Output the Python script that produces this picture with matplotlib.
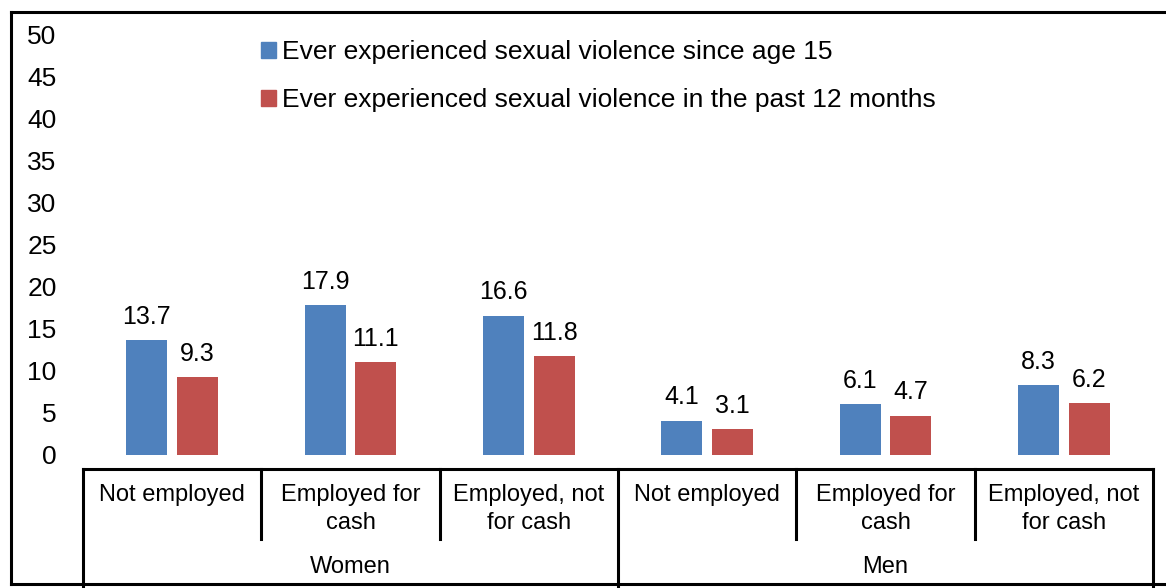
#!/usr/bin/env python3
# sexual_violence_by_employment.py

import matplotlib.pyplot as plt
import numpy as np
from matplotlib.lines import Line2D
from matplotlib.patches import Patch
from matplotlib import transforms

plt.rcParams["font.family"] = ["Liberation Sans", "DejaVu Sans"]

groups = ["Women", "Men"]
categories = ["Not employed", "Employed for\ncash", "Employed, not\nfor cash"]
series_names = [
    "Ever experienced sexual violence since age 15",
    "Ever experienced sexual violence in the past 12 months",
]
since_15 = [13.7, 17.9, 16.6, 4.1, 6.1, 8.3]
past_12_months = [9.3, 11.1, 11.8, 3.1, 4.7, 6.2]
y_ticks = [0, 5, 10, 15, 20, 25, 30, 35, 40, 45, 50]

BLUE = "#4F81BD"
RED = "#C0504D"
FS = 18
CAT_FS = 17

W, H = 1166, 588


def fx(px):
    return px / W


def fy(py):
    return 1 - py / H


def plot(fig):
    ax = fig.add_axes([fx(83), fy(455), fx(1153) - fx(83), fy(35) - fy(455)])

    x = np.arange(len(since_15))
    width = 0.23
    off = 0.142
    b1 = ax.bar(x - off, since_15, width, color=BLUE)
    b2 = ax.bar(x + off, past_12_months, width, color=RED)
    for bars, vals in ((b1, since_15), (b2, past_12_months)):
        for bar, v in zip(bars, vals):
            ax.annotate(f"{v:.1f}", (bar.get_x() + bar.get_width() / 2, v),
                        xytext=(0, 8), textcoords="offset points",
                        ha="center", va="bottom", fontsize=FS)

    ax.set_xlim(-0.5, len(since_15) - 0.5)
    ax.set_ylim(0, 50)
    ax.set_yticks(y_ticks)
    ax.tick_params(axis="y", length=0, pad=19, labelsize=19)
    ax.set_xticks([])
    for s in ax.spines.values():
        s.set_visible(False)

    # category table under the bars, x in data units, y in figure pixels
    trans = transforms.blended_transform_factory(ax.transData, fig.transFigure)
    n = len(since_15)
    lo, hi = -0.5, n - 0.5
    ln = dict(color="black", lw=2.2, transform=trans, clip_on=False)
    fig.add_artist(Line2D([lo, hi], [fy(469), fy(469)], **ln))
    for i in range(n + 1):
        xb = i - 0.5
        bottom = 588 if i % 3 == 0 else 539
        fig.add_artist(Line2D([xb, xb], [fy(469), fy(bottom)], **ln))

    labels = categories * len(groups)
    for i, lab in enumerate(labels):
        fig.text(i, fy(484), lab, transform=trans, ha="center", va="top",
                 fontsize=CAT_FS, linespacing=1.38)
    for g, name in enumerate(groups):
        fig.text(g * 3 + 1, fy(567), name, transform=trans, ha="center",
                 va="center", fontsize=CAT_FS)

    handles = [Patch(color=BLUE), Patch(color=RED)]
    fig.legend(handles, series_names, loc="upper left",
               bbox_to_anchor=(fx(261), fy(40)), frameon=False, fontsize=19,
               handlelength=0.55, handleheight=0.55, handletextpad=0.25,
               labelspacing=0.92, borderpad=0, borderaxespad=0)

    # outer chart border
    fr = dict(color="black", lw=2.2)
    fig.add_artist(Line2D([fx(11), fx(11)], [fy(12), fy(584)], **fr))
    fig.add_artist(Line2D([fx(11), 1], [fy(12), fy(12)], **fr))
    fig.add_artist(Line2D([fx(11), 1], [fy(584), fy(584)], **fr))


def main():
    fig = plt.figure(figsize=(W / 100, H / 100), dpi=100)
    plot(fig)
    fig.savefig("out.png", dpi=100)


if __name__ == "__main__":
    main()
